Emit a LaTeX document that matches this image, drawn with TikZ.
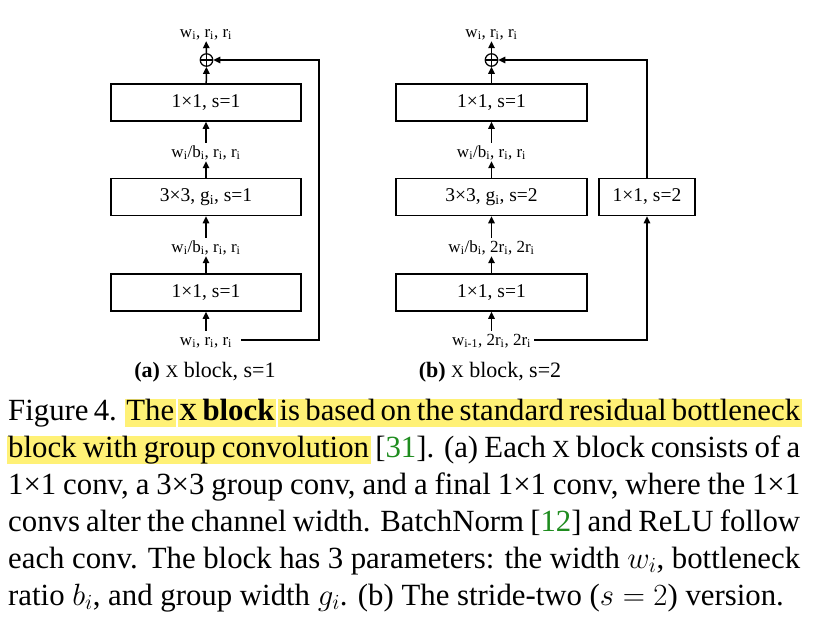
\RequirePackage{fix-cm}
\documentclass[tikz,border=0pt]{standalone}
\usepackage{fontspec}
\setmainfont{Liberation Serif}
\newfontfamily\xsmall{Liberation Serif}[Scale=0.8]
\usetikzlibrary{arrows.meta}
\definecolor{hl}{RGB}{255,241,118}
\definecolor{citegreen}{RGB}{30,140,30}
\newcommand\hlw[1]{\setbox0=\hbox{#1}\kern-1.5pt\rlap{\color{hl}\vrule height 21.5pt depth 6.5pt width \dimexpr\wd0+3pt\relax}\kern1.5pt\box0\relax}
\newcommand\hls{{\color{hl}\leaders\vrule height 21.5pt depth 6.5pt\hskip\fontdimen2\font plus\fontdimen3\font minus\fontdimen4\font}}
\newcommand\sub[1]{\textsubscript{#1}}
\tikzset{
  blk/.style={draw, line width=1.5pt, minimum width=190pt, minimum height=37pt, inner sep=0pt, font=\fontsize{19.5}{20}\selectfont},
  sblk/.style={blk, minimum width=96pt},
  lab/.style={inner sep=0pt, text height=14pt, text depth=4pt, font=\fontsize{17}{18}\selectfont},
  sumnode/.style={circle, draw, line width=1.2pt, minimum size=12.5pt, inner sep=0pt,
    path picture={\draw[line width=1.2pt] (path picture bounding box.north) -- (path picture bounding box.south) (path picture bounding box.west) -- (path picture bounding box.east);}},
  arr/.style={line width=1.5pt, -{Triangle[length=7pt,width=6.5pt]}},
  subcap/.style={inner sep=0pt, font=\fontsize{22}{24}\selectfont},
  capline/.style={inner sep=0pt, anchor=base west, font=\fontsize{30.8}{37}\selectfont}
}
\begin{document}
\begin{tikzpicture}[x=1pt,y=-1pt]
\fill[white] (0,0) rectangle (815,629);
\useasboundingbox (0,0) rectangle (815,629);
% ---------- (a) ----------
\node[blk] (a1) at (206,102.5) {1×1, s=1};
\node[blk] (a2) at (206,197) {3×3, g\sub{i}, s=1};
\node[blk] (a3) at (206,292.5) {1×1, s=1};
\node[sumnode] (pa) at (206.5,60) {};
\node[lab, anchor=base] (la0) at (206,37) {w\sub{i}, r\sub{i}, r\sub{i}};
\node[lab, anchor=base] (la1) at (206,157) {w\sub{i}/b\sub{i}, r\sub{i}, r\sub{i}};
\node[lab, anchor=base] (la2) at (206,252) {w\sub{i}/b\sub{i}, r\sub{i}, r\sub{i}};
\node[lab, anchor=base] (la3) at (206,345) {w\sub{i}, r\sub{i}, r\sub{i}};
\coordinate (ca) at (319,340);
\coordinate (cta) at (319,60);
\draw[arr] (la3) -- (a3);
\draw[arr] (a3) -- (la2);
\draw[arr] (la2) -- (a2);
\draw[arr] (a2) -- (la1);
\draw[arr] (la1) -- (a1);
\draw[arr] (a1) -- (pa);
\draw[arr] (pa) -- (la0);
\draw[arr, shorten <=9pt] (la3.east) -- (ca) -- (cta) -- (pa);
\node[subcap, anchor=base] (capa) at (205,377) {\textbf{(a)} {\xsmall X} block, s=1};
% ---------- (b) ----------
\node[blk, minimum width=191pt] (b1) at (491.5,102.5) {1×1, s=1};
\node[blk, minimum width=191pt] (b2) at (491.5,197) {3×3, g\sub{i}, s=2};
\node[blk, minimum width=191pt] (b3) at (491.5,292.5) {1×1, s=1};
\node[sblk] (bs) at (647,197) {1×1, s=2};
\node[sumnode] (pb) at (491.5,60) {};
\node[lab, anchor=base] (lb0) at (491.5,37) {w\sub{i}, r\sub{i}, r\sub{i}};
\node[lab, anchor=base] (lb1) at (491.5,157) {w\sub{i}/b\sub{i}, r\sub{i}, r\sub{i}};
\node[lab, anchor=base] (lb2) at (491.5,252) {w\sub{i}/b\sub{i}, 2r\sub{i}, 2r\sub{i}};
\node[lab, anchor=base] (lb3) at (491.5,345) {w\sub{i-1}, 2r\sub{i}, 2r\sub{i}};
\coordinate (cb) at (647,340);
\coordinate (ctb) at (647,60);
\draw[arr] (lb3) -- (b3);
\draw[arr] (b3) -- (lb2);
\draw[arr] (lb2) -- (b2);
\draw[arr] (b2) -- (lb1);
\draw[arr] (lb1) -- (b1);
\draw[arr] (b1) -- (pb);
\draw[arr] (pb) -- (lb0);
\draw[arr, shorten <=3pt] (lb3.east) -- (cb) -- (bs);
\draw[arr] (bs) -- (ctb) -- (pb);
\node[subcap, anchor=base] (capb) at (490,377) {\textbf{(b)} {\xsmall X} block, s=2};
% ---------- caption ----------
\node[capline] (c1) at (8,420) {\hbox to 792pt{Figure 4. \hlw{The} \hlw{\textbf{\xsmall X}}\hls\hlw{\textbf{block}} \hlw{is}\hls\hlw{based}\hls\hlw{on}\hls\hlw{the}\hls\hlw{standard}\hls\hlw{residual}\hls\hlw{bottleneck}}};
\node[capline] (c2) at (8,457) {\hbox to 792pt{\hlw{block}\hls\hlw{with}\hls\hlw{group}\hls\hlw{convolution} [{\color{citegreen}31}]. (a) Each {\xsmall X} block consists of a}};
\node[capline] (c3) at (8,494) {\hbox to 792pt{1×1 conv, a 3×3 group conv, and a final 1×1 conv, where the 1×1}};
\node[capline] (c4) at (8,531) {\hbox to 792pt{convs alter the channel width. BatchNorm [{\color{citegreen}12}] and ReLU follow}};
\node[capline] (c5) at (8,568) {\hbox to 792pt{each conv. The block has 3 parameters: the width $w_i$, bottleneck}};
\node[capline] (c6) at (8,605) {ratio $b_i$, and group width $g_i$. (b) The stride-two ($s=2$) version.};
\end{tikzpicture}
\end{document}
